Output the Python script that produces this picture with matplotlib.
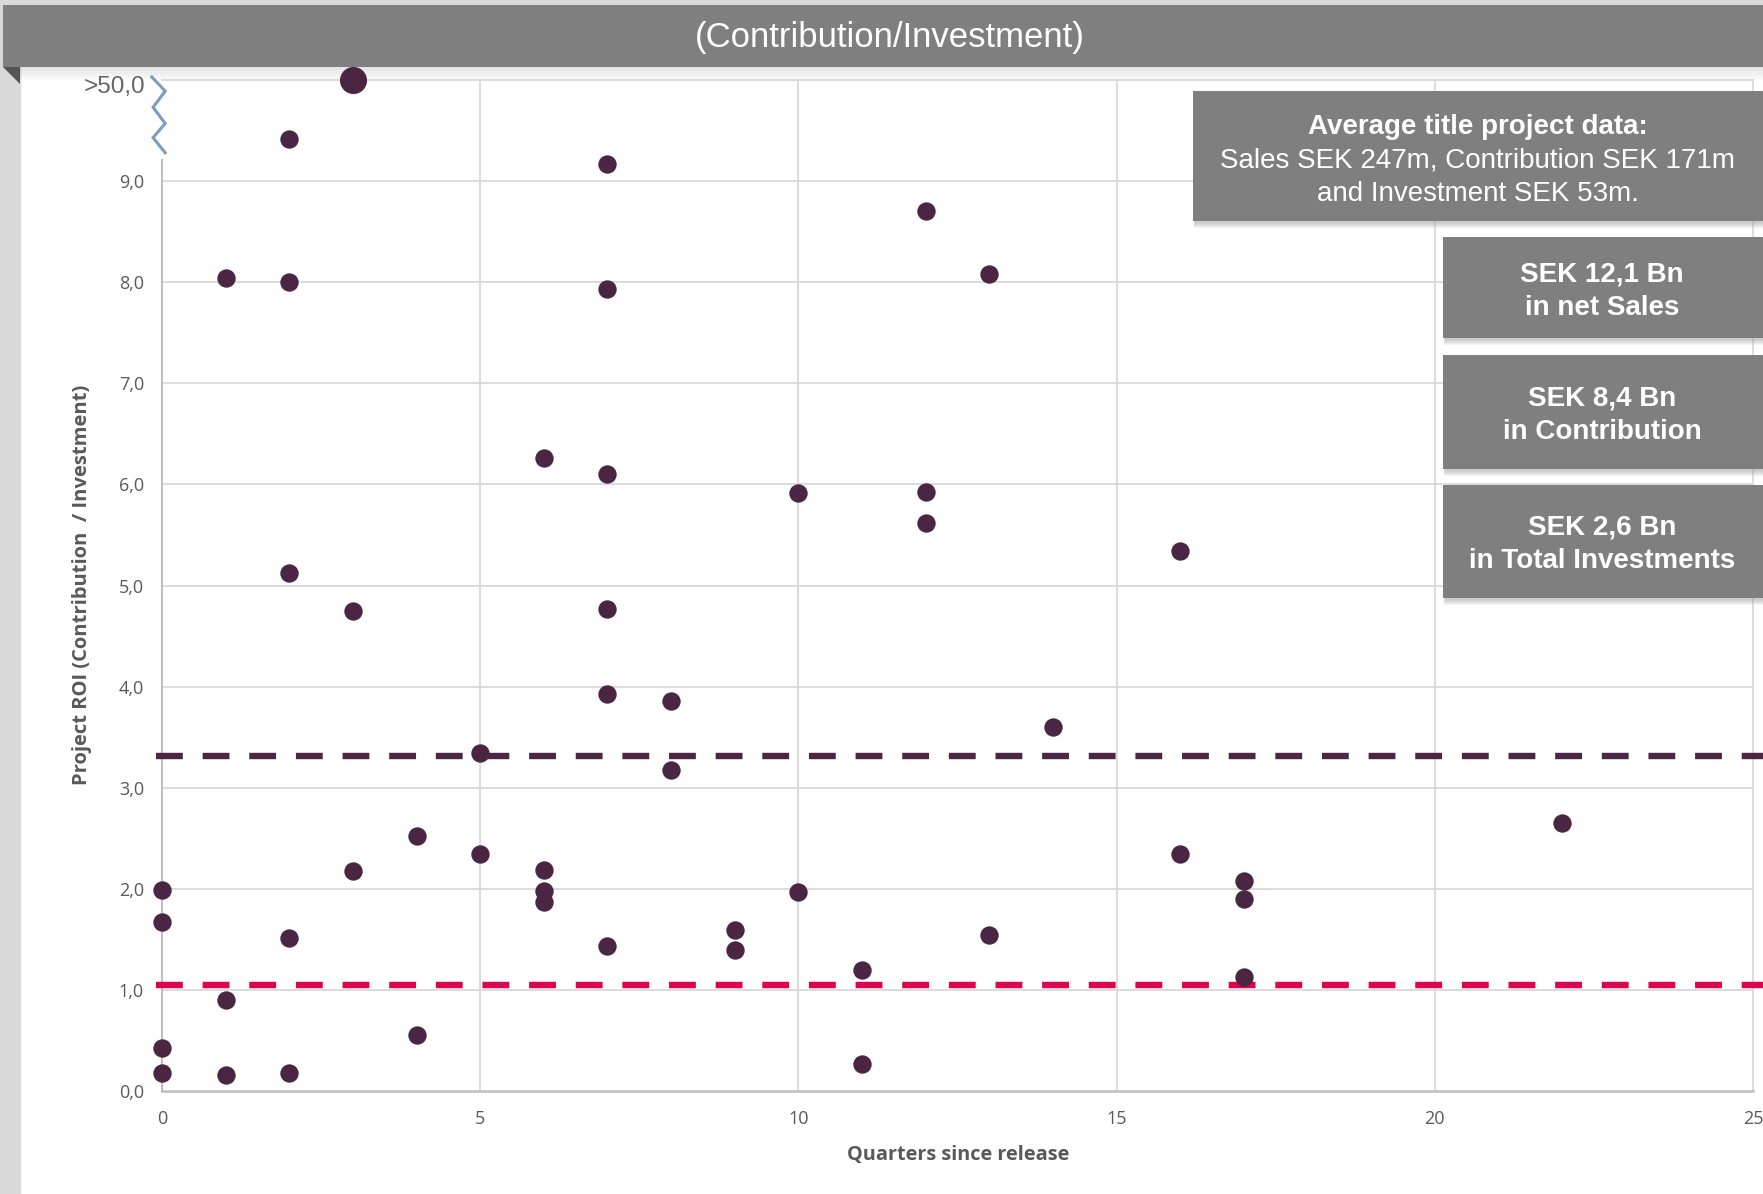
import matplotlib
matplotlib.use("Agg")
import matplotlib.pyplot as plt
from matplotlib.patches import Rectangle, Polygon

# ---- data -------------------------------------------------------------
quarters = [0, 0, 0, 0,
            1, 1, 1,
            2, 2, 2, 2, 2,
            3, 3,
            4, 4,
            5, 5,
            6, 6, 6, 6,
            7, 7, 7, 7, 7, 7,
            8, 8,
            9, 9,
            10, 10,
            11, 11,
            12, 12, 12,
            13, 13,
            14,
            16, 16,
            17, 17, 17,
            22]
roi = [1.99, 1.67, 0.43, 0.18,
       8.04, 0.90, 0.16,
       9.42, 8.00, 5.12, 1.51, 0.18,
       4.75, 2.18,
       2.52, 0.55,
       3.34, 2.34,
       6.26, 2.19, 1.98, 1.87,
       9.17, 7.93, 6.10, 4.77, 3.93, 1.43,
       3.86, 3.18,
       1.59, 1.39,
       5.91, 1.97,
       1.20, 0.27,
       8.70, 5.92, 5.62,
       8.08, 1.54,
       3.60,
       5.34, 2.34,
       2.08, 1.90, 1.13,
       2.65]

# title whose ROI is beyond the axis break (drawn on the ">50" row)
outlier_quarter = [3]
outlier_roi = [10.0]

average_roi = 3.31
breakeven_roi = 1.05

x_ticks = [0, 5, 10, 15, 20, 25]
y_ticks = [0, 1, 2, 3, 4, 5, 6, 7, 8, 9, 10]
y_tick_labels = ["0,0", "1,0", "2,0", "3,0", "4,0", "5,0", "6,0", "7,0",
                 "8,0", "9,0", ""]
top_label = ">50,0"

title = "(Contribution/Investment)"
x_label = "Quarters since release"
y_label = "Project ROI (Contribution  / Investment)"

summary_head = "Average title project data:"
summary_body = "Sales SEK 247m, Contribution SEK 171m\nand Investment SEK 53m."
kpi_texts = ["SEK 12,1 Bn\nin net Sales",
             "SEK 8,4 Bn\nin Contribution",
             "SEK 2,6 Bn\nin Total Investments"]

# ---- styling ----------------------------------------------------------
W, H = 1763, 1194
DOT = "#4a2642"
AVG = "#4b2742"
RED = "#e0024f"
GRID = "#d9d9d9"
AXIS = "#bfbfbf"
BAR = "#7f7f7f"
TXT = "#595959"
SANS = "Liberation Sans"
TICKF = "Open Sans"


def fx(px):
    return px / W


def fy(py):
    return 1 - py / H


fig = plt.figure(figsize=(W / 100, H / 100), dpi=100)
fig.patch.set_facecolor("white")

# frame: light grey margin, title bar, fold and shadow
fig.add_artist(Rectangle((0, 0), fx(20), 1, transform=fig.transFigure,
                         color="#d9d9d9", zorder=-5))
fig.add_artist(Rectangle((0, fy(5)), 1, 5 / H, transform=fig.transFigure,
                         color="#d9d9d9", zorder=-5))
for i in range(14):
    a = 0.22 * (1 - i / 14)
    fig.add_artist(Rectangle((fx(20), fy(68 + i)), 1, 1 / H,
                             transform=fig.transFigure, color="#808080",
                             alpha=a, lw=0, zorder=-4))
fig.add_artist(Rectangle((fx(3), fy(67)), 1, 62 / H, transform=fig.transFigure,
                         color=BAR, lw=0, zorder=-3))
fig.add_artist(Polygon([(fx(3), fy(67)), (fx(20), fy(67)), (fx(20), fy(84))],
                       closed=True, transform=fig.transFigure,
                       color="#555555", lw=0, zorder=-3))
fig.text(fx(890), fy(37), title, ha="center", va="center", color="white",
         fontsize=25, family=SANS)

# ---- axes -------------------------------------------------------------
ax = fig.add_axes([fx(162), fy(1091), (1753 - 162) / W, (1091 - 80) / H])
ax.set_facecolor("none")
ax.set_xlim(0, 25)
ax.set_ylim(0, 10)
for s in ax.spines.values():
    s.set_visible(False)

for yv in y_ticks[1:]:
    ax.plot([0, 25], [yv, yv], color=GRID, lw=1.3, zorder=1, clip_on=False)
for xv in x_ticks[1:]:
    ax.plot([xv, xv], [0, 10], color=GRID, lw=1.3, zorder=1, clip_on=False)
ax.plot([0, 25], [0, 0], color=AXIS, lw=1.8, zorder=1.5, clip_on=False)
ax.plot([0, 0], [0, 9.21], color=AXIS, lw=1.5, zorder=1.5, clip_on=False)

# axis-break zigzag
zig_x = [-0.16, 0.05, -0.14, 0.05, -0.14, 0.05]
zig_y = [10.03, 9.89, 9.73, 9.57, 9.43, 9.28]
ax.plot(zig_x, zig_y, color="#7f9cc0", lw=2.2, clip_on=False, zorder=3,
        solid_joinstyle="miter")

ax.plot([-0.1, 25.3], [average_roi, average_roi], color=AVG, lw=4.6,
        dashes=(4.2, 3.1), dash_capstyle="butt", clip_on=False, zorder=2)
ax.plot([-0.1, 25.3], [breakeven_roi, breakeven_roi], color=RED, lw=4.6,
        dashes=(4.2, 3.1), dash_capstyle="butt", clip_on=False, zorder=2)

ax.scatter(quarters, roi, s=175, color=DOT, zorder=4, clip_on=False, lw=0)
ax.scatter(outlier_quarter, outlier_roi, s=380, color=DOT, zorder=4,
           clip_on=False, lw=0)

ax.set_xticks(x_ticks)
ax.set_xticklabels([str(v) for v in x_ticks], family=TICKF, fontsize=13,
                   color=TXT)
ax.set_yticks(y_ticks)
ax.set_yticklabels(y_tick_labels, family=TICKF, fontsize=13, color=TXT)
ax.tick_params(axis="both", length=0)
ax.tick_params(axis="y", pad=13)
ax.tick_params(axis="x", pad=14)

fig.text(fx(145), fy(87), top_label, ha="right", va="center", color="#666666",
         fontsize=17.5, family=SANS)

fig.text(fx(82), fy(585), y_label, rotation=90, ha="center", va="center",
         color=TXT, fontsize=14.5, fontweight="bold", family=TICKF)
fig.text(fx(958), fy(1155), x_label, ha="center", va="center", color=TXT,
         fontsize=14.3, fontweight="bold", family=TICKF)


# ---- annotation boxes -------------------------------------------------
def panel(x0, y0, x1, y1):
    for k in range(6):
        fig.add_artist(Rectangle((fx(x0 + 2 - k * 0.3), fy(y1 + 2 + k)),
                                 (x1 - x0) / W, (y1 - y0) / H,
                                 transform=fig.transFigure, color="#9a9a9a",
                                 alpha=0.10, lw=0, zorder=5))
    fig.add_artist(Rectangle((fx(x0), fy(y1)), (x1 - x0) / W, (y1 - y0) / H,
                             transform=fig.transFigure, color=BAR, lw=0,
                             zorder=6))


panel(1193, 91, 1770, 221)
fig.text(fx(1478), fy(127), summary_head, ha="center", va="center",
         color="white", fontsize=20, fontweight="bold", family=SANS, zorder=7)
fig.text(fx(1478), fy(177), summary_body, ha="center", va="center",
         color="white", fontsize=20, family=SANS, linespacing=1.36, zorder=7)

kpi_boxes = [(237, 338), (355, 469), (485, 598)]
kpi_centres = [291, 415, 544]
for (top, bottom), cy, txt in zip(kpi_boxes, kpi_centres, kpi_texts):
    panel(1443, top, 1770, bottom)
    fig.text(fx(1602), fy(cy), txt, ha="center", va="center", color="white",
             fontsize=20, fontweight="bold", family=SANS, linespacing=1.36,
             zorder=7)

fig.savefig("out.png", dpi=100)
